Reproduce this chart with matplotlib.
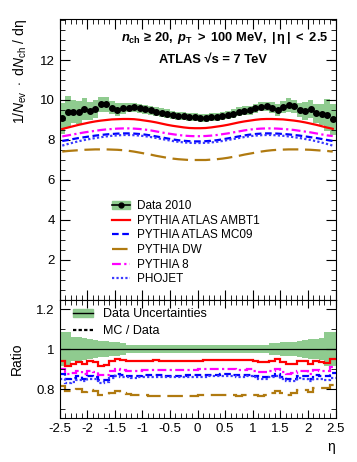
import numpy as np
import matplotlib
matplotlib.use("Agg")
import matplotlib.pyplot as plt
from matplotlib.lines import Line2D
from matplotlib.patches import Patch
from matplotlib.ticker import MultipleLocator

plt.rcParams["font.family"] = ["Liberation Sans", "DejaVu Sans"]
plt.rcParams["mathtext.fontset"] = "custom"
plt.rcParams["mathtext.rm"] = "Liberation Sans"
plt.rcParams["mathtext.it"] = "Liberation Sans:italic"
plt.rcParams["mathtext.bf"] = "Liberation Sans:bold"
plt.rcParams["mathtext.sf"] = "Liberation Sans:bold:italic"

# eta bins, width 0.1
edges = np.linspace(-2.5, 2.5, 51)
centers = 0.5 * (edges[1:] + edges[:-1])

# Data 2010, 1/Nev dNch/deta
data = [9.08, 9.42, 9.42, 9.38, 9.55, 9.45, 9.55, 9.78, 9.78, 9.62,
        9.52, 9.58, 9.62, 9.63, 9.58, 9.53, 9.48, 9.42, 9.37, 9.32,
        9.27, 9.22, 9.18, 9.15, 9.13,
        9.12, 9.12, 9.13, 9.17, 9.20, 9.25, 9.32, 9.42, 9.47, 9.48,
        9.58, 9.67, 9.68, 9.62, 9.50, 9.65, 9.75, 9.68, 9.50, 9.45,
        9.55, 9.33, 9.28, 9.25, 9.03]

# relative data uncertainty
rel_err = [0.085, 0.085, 0.060, 0.060, 0.055, 0.048, 0.045, 0.040, 0.038, 0.035,
           0.033, 0.030, 0.022, 0.022, 0.022, 0.022, 0.022, 0.022, 0.022, 0.022,
           0.022, 0.022, 0.022, 0.022, 0.022,
           0.022, 0.022, 0.022, 0.022, 0.022, 0.022, 0.022, 0.022, 0.022, 0.022,
           0.022, 0.022, 0.022, 0.030, 0.032, 0.033, 0.035, 0.035, 0.038, 0.047,
           0.048, 0.050, 0.055, 0.085, 0.085]

ambt1 = [8.55, 8.62, 8.69, 8.76, 8.82, 8.88, 8.93, 8.97, 9.00, 9.03,
         9.04, 9.05, 9.05, 9.04, 9.01, 8.97, 8.93, 8.88, 8.82, 8.76,
         8.71, 8.67, 8.63, 8.60, 8.59,
         8.59, 8.60, 8.63, 8.67, 8.71, 8.76, 8.82, 8.88, 8.93, 8.97,
         9.01, 9.04, 9.05, 9.05, 9.04, 9.03, 9.00, 8.97, 8.93, 8.88,
         8.82, 8.76, 8.69, 8.62, 8.56]

mc09 = [7.95, 8.00, 8.05, 8.10, 8.14, 8.18, 8.22, 8.25, 8.28, 8.30,
        8.32, 8.33, 8.33, 8.32, 8.30, 8.27, 8.23, 8.18, 8.13, 8.08,
        8.03, 7.99, 7.96, 7.94, 7.93,
        7.93, 7.94, 7.96, 7.99, 8.03, 8.08, 8.13, 8.18, 8.23, 8.27,
        8.30, 8.32, 8.33, 8.33, 8.32, 8.30, 8.28, 8.25, 8.22, 8.18,
        8.14, 8.10, 8.05, 8.00, 7.95]

dw = [7.42, 7.45, 7.47, 7.49, 7.51, 7.52, 7.53, 7.53, 7.53, 7.52,
      7.51, 7.49, 7.46, 7.42, 7.37, 7.32, 7.27, 7.21, 7.16, 7.11,
      7.07, 7.04, 7.02, 7.00, 7.00,
      7.00, 7.00, 7.02, 7.04, 7.07, 7.11, 7.16, 7.21, 7.27, 7.32,
      7.37, 7.42, 7.46, 7.49, 7.51, 7.52, 7.53, 7.53, 7.53, 7.52,
      7.51, 7.49, 7.47, 7.45, 7.42]

py8 = [8.18, 8.23, 8.28, 8.33, 8.38, 8.42, 8.46, 8.50, 8.53, 8.55,
       8.57, 8.58, 8.58, 8.57, 8.55, 8.52, 8.48, 8.43, 8.38, 8.33,
       8.29, 8.25, 8.22, 8.20, 8.19,
       8.19, 8.20, 8.22, 8.25, 8.29, 8.33, 8.38, 8.43, 8.48, 8.52,
       8.55, 8.57, 8.58, 8.58, 8.57, 8.55, 8.53, 8.50, 8.46, 8.42,
       8.38, 8.33, 8.28, 8.23, 8.20]

phojet = [7.72, 7.80, 7.87, 7.94, 8.00, 8.05, 8.10, 8.14, 8.18, 8.21,
          8.23, 8.25, 8.25, 8.24, 8.22, 8.19, 8.15, 8.10, 8.05, 8.00,
          7.95, 7.91, 7.88, 7.86, 7.85,
          7.85, 7.86, 7.88, 7.91, 7.95, 8.00, 8.05, 8.10, 8.15, 8.19,
          8.22, 8.24, 8.25, 8.25, 8.23, 8.21, 8.18, 8.14, 8.10, 8.05,
          8.00, 7.94, 7.87, 7.80, 7.72]

data = np.array(data)
rel_err = np.array(rel_err)
green = "#8fcb8f"

mc_list = [
    ("PYTHIA ATLAS AMBT1", ambt1, "#ff0000", "-"),
    ("PYTHIA ATLAS MC09", mc09, "#0000ff", (0, (3, 1.6))),
    ("PYTHIA DW", dw, "#b07a10", (0, (7, 3))),
    ("PYTHIA 8", py8, "#ff00ff", (0, (4, 1.5, 1, 1.5))),
    ("PHOJET", phojet, "#3a3aff", (0, (1, 1))),
]

fig = plt.figure(figsize=(3.57, 4.62), dpi=100)
ax1 = fig.add_axes([59.5 / 357, 1 - 300 / 462, 276 / 357, 281 / 462])
ax2 = fig.add_axes([59.5 / 357, 1 - 418 / 462, 276 / 357, 118 / 462])

# top panel
ax1.stairs(data * (1 + rel_err), edges, baseline=data * (1 - rel_err),
           fill=True, color=green, lw=0)
for name, vals, col, ls in mc_list:
    ax1.plot(centers, vals, color=col, ls=ls, lw=1.6)
ax1.plot(centers, data, "o", color="black", ms=4.0, zorder=5)

ax1.set_xlim(-2.5, 2.5)
ax1.set_ylim(0, 14.05)
ax1.set_yticks([2, 4, 6, 8, 10, 12])
ax1.yaxis.set_minor_locator(MultipleLocator(0.5))
ax1.xaxis.set_major_locator(MultipleLocator(0.5))
ax1.xaxis.set_minor_locator(MultipleLocator(0.1))
ax1.tick_params(labelbottom=False)
ax1.set_ylabel(r"$1/N_{\mathrm{ev}}\ \cdot\ \mathrm{d}N_{\mathrm{ch}}\ /\ \mathrm{dη}$",
               fontsize=10, loc="top", labelpad=8)

ax1.text(121 / 357, 1 - 38 / 462,
         r"$\mathsf{n}_{\mathbf{ch}}\mathbf{\ ≥\ 20,\ }\mathsf{p}_{\mathbf{T}}\mathbf{\ >\ 100\ MeV,\ |\,η\,|\ <\ 2.5}$",
         transform=fig.transFigure, fontsize=9.3, va="center", ha="left")
ax1.text(0.555, 0.853, "ATLAS √s = 7 TeV", transform=ax1.transAxes,
         fontsize=9.3, fontweight="bold", va="center", ha="center")

handles = [(Patch(color=green), Line2D([], [], color="black", marker="o", ms=3.5, lw=1.2))]
labels = ["Data 2010"]
for name, vals, col, ls in mc_list:
    handles.append(Line2D([], [], color=col, ls=ls, lw=1.6))
    labels.append(name)
ax1.legend(handles, labels, loc="upper left", bbox_to_anchor=(0.19, 0.355),
           frameon=False, fontsize=8.5, handlelength=1.5, handletextpad=0.6,
           labelspacing=0.22, borderpad=0, borderaxespad=0)

# ratio panel
ax2.stairs(1 + rel_err, edges, baseline=1 - rel_err, fill=True, color=green, lw=0)
ax2.axhline(1, color="black", lw=0.9)
for name, vals, col, ls in mc_list:
    ax2.stairs(np.array(vals) / data, edges, color=col, ls=ls, lw=1.6, baseline=None)

ax2.set_xlim(-2.5, 2.5)
ax2.set_ylim(0.655, 1.245)
ax2.set_yticks([0.8, 1.0, 1.2])
ax2.set_yticklabels(["0.8", "1", "1.2"])
ax2.yaxis.set_minor_locator(MultipleLocator(0.1))
ax2.set_xticks(np.arange(-2.5, 2.51, 0.5))
ax2.set_xticklabels([f"{v:g}" for v in np.arange(-2.5, 2.51, 0.5)])
ax2.xaxis.set_minor_locator(MultipleLocator(0.1))
ax2.set_ylabel("Ratio", fontsize=10, labelpad=9)
ax2.set_xlabel("η", fontsize=10, loc="right")

h2 = [(Patch(color=green), Line2D([], [], color="black", lw=1)),
      Line2D([], [], color="black", ls=(0, (1.5, 1)), lw=1.6)]
ax2.legend(h2, ["Data Uncertainties", "MC / Data"], loc="upper left",
           bbox_to_anchor=(0.05, 0.93), frameon=False, fontsize=9,
           handlelength=1.6, handletextpad=0.8, labelspacing=0.4,
           borderpad=0, borderaxespad=0)

for ax in (ax1, ax2):
    ax.tick_params(which="both", direction="in", top=True, right=True, labelsize=9.5)
    ax.tick_params(which="major", length=7)
    ax.tick_params(which="minor", length=3.5)
ax2.tick_params(axis="x", which="major", length=6)

fig.savefig("out.png", dpi=100)
